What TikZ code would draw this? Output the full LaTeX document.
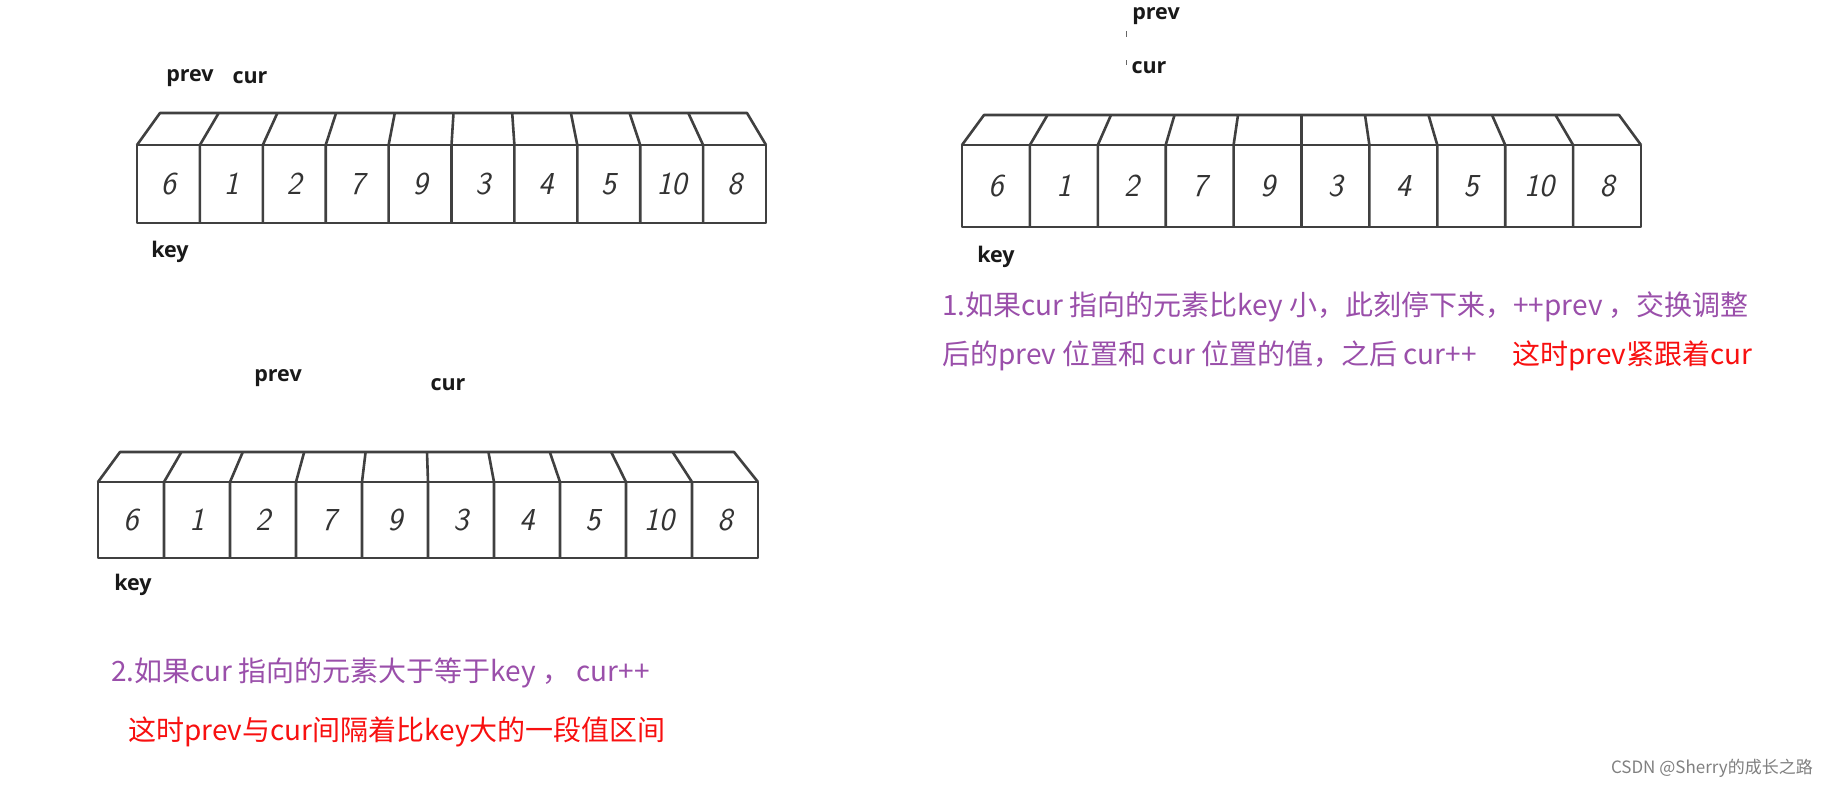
\documentclass[tikz,border=0pt]{standalone}
\usepackage{fontspec}
\newfontfamily\cjk{Noto Sans CJK SC}
\newfontfamily\labfont{Open Sans}
\definecolor{purp}{HTML}{9A4FAA}
\definecolor{redt}{HTML}{F81010}
\definecolor{boxc}{HTML}{404040}
\newcommand\arrbox[8]{%
  \foreach \i in {1,...,9}{%
    \pgfmathsetmacro\fx{#2+(#3-#2)*\i/10}%
    \pgfmathsetmacro\bx{#6+(#7-#6)*\i/10}%
    \draw[boxline] (\bx,#8) -- (\fx,#4) -- (\fx,#5);
  }%
  \draw[boxline] (#2,#4) rectangle (#3,#5);
  \draw[boxline] (#2,#4) -- (#6,#8) -- (#7,#8) -- (#3,#4);
  \foreach \v [count=\k] in {6,1,2,7,9,3,4,5,10,8}{%
    \node[digit] (#1\k) at ({#2+(#3-#2)*(\k-0.5)/10},{(#4+#5)/2}) {\v};
  }%
}
\begin{document}
\begin{tikzpicture}[x=1pt,y=-1pt,
  boxline/.style={draw=boxc,line width=2.6pt,line join=round},
  digit/.style={font=\fontsize{32}{36}\selectfont\sffamily\itshape, text=black!80, inner sep=0pt},
  lab/.style={font=\fontsize{21.5}{24}\selectfont\labfont\bfseries, inner sep=0pt, text=black!90},
  desc/.style={font=\fontsize{28}{32}\selectfont\cjk, inner sep=0pt, anchor=west}]
\useasboundingbox (0,0) rectangle (1828,788);
\fill[white] (0,0) rectangle (1828,788);

\arrbox{a}{137}{766}{145}{223}{160}{747}{113}
\arrbox{b}{962}{1641}{145}{227}{984}{1619}{115}
\arrbox{c}{98}{758}{482}{558}{120}{734}{452}

\node[lab] (aprev) at (190,78) {prev};
\node[lab] (acur) at (250,78) {cur};
\node[lab] (akey) at (170,252) {key};
\node[lab] (bprev) at (1156,16) {prev};
\node[lab] (bcur) at (1149,68) {cur};
\node[lab] (bkey) at (996,257) {key};
\node[lab] (cprev) at (278,378) {prev};
\node[lab] (ccur) at (448,385) {cur};
\node[lab] (ckey) at (133,585) {key};

\draw[black!60, line width=1pt] (1126,31) -- (1126,37);
\draw[black!60, line width=1pt] (1126,60) -- (1126,65);

\node[desc,text=purp] (t1a) at (942,307) {1.如果cur 指向的元素比key 小，此刻停下来，++prev ，交换调整};
\node[desc,text=purp] (t1b) at (942,356) {后的prev 位置和 cur 位置的值，之后 cur++};
\node[desc,text=redt] (t1c) at (1512,356) {这时prev紧跟着cur};
\node[desc,text=purp] (t2a) at (111,673) {2.如果cur 指向的元素大于等于key ， cur++};
\node[desc,text=redt] (t2b) at (128,732) {这时prev与cur间隔着比key大的一段值区间};
\node[font=\fontsize{17}{20}\selectfont\cjk, text=black!50, inner sep=0pt, anchor=east] (wm) at (1813,768) {CSDN @Sherry的成长之路};
\end{tikzpicture}
\end{document}
